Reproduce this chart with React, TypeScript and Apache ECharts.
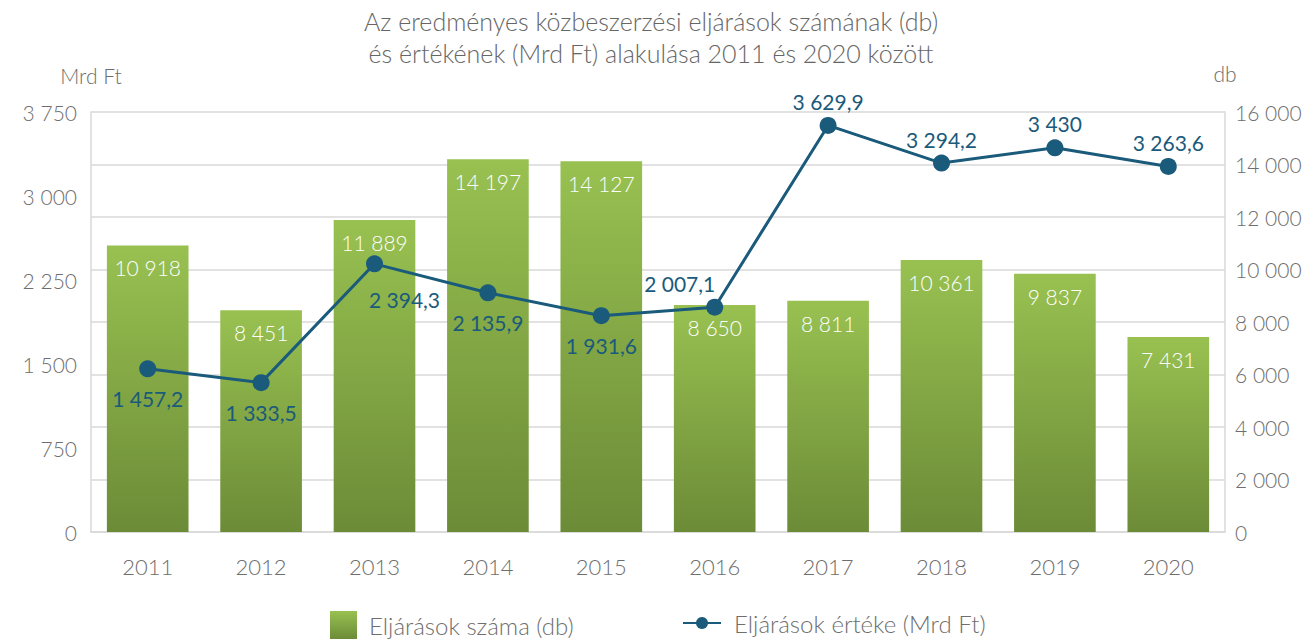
import React, { useEffect, useRef } from "react";
import * as echarts from "echarts";

const years = ["2011", "2012", "2013", "2014", "2015", "2016", "2017", "2018", "2019", "2020"];
const countValues = [10918, 8451, 11889, 14197, 14127, 8650, 8811, 10361, 9837, 7431];
const valueMrdFt = [1457.2, 1333.5, 2394.3, 2135.9, 1931.6, 2007.1, 3629.9, 3294.2, 3430, 3263.6];
const titleLines = [
  "Az eredményes közbeszerzési eljárások számának (db)",
  "és értékének (Mrd Ft) alakulása 2011 és 2020 között",
];
const countName = "Eljárások száma (db)";
const valueName = "Eljárások értéke (Mrd Ft)";
const leftAxisName = "Mrd Ft";
const rightAxisName = "db";

// label placement for the line series (styling, not data)
const lineLabelPlacement: { position: string; offset: [number, number] }[] = [
  { position: "bottom", offset: [0, 0] },
  { position: "bottom", offset: [0, 0] },
  { position: "bottom", offset: [30, 6] },
  { position: "bottom", offset: [0, 0] },
  { position: "bottom", offset: [0, 0] },
  { position: "top", offset: [-35, 0] },
  { position: "top", offset: [0, 0] },
  { position: "top", offset: [0, 0] },
  { position: "top", offset: [0, 0] },
  { position: "top", offset: [0, 0] },
];

const fmt = (v: number): string => {
  const dec = Number.isInteger(v) ? 0 : 1;
  const s = v.toFixed(dec);
  const [i, d] = s.split(".");
  const ii = i.replace(/\B(?=(\d{3})+(?!\d))/g, " ");
  return d ? ii + "," + d : ii;
};

const FONT = "Lato";
const GRAY = "#6e6e6e";
const BLUE = "#1a5a7b";
const GRID = "#d9d9d9";

export default function App() {
  const ref = useRef<HTMLDivElement>(null);
  useEffect(() => {
    if (!ref.current) return;
    const chart = echarts.init(ref.current, undefined, { renderer: "svg" });
    const barGradient = new echarts.graphic.LinearGradient(0, 0, 0, 1, [
      { offset: 0, color: "#98c151" },
      { offset: 1, color: "#6c8b37" },
    ]);
    chart.setOption({
      animation: false,
      textStyle: { fontFamily: FONT },
      title: {
        text: titleLines.join("\n"),
        left: 646,
        textAlign: "center",
        top: 0,
        textStyle: {
          fontFamily: FONT,
          fontSize: 25,
          fontWeight: 300,
          color: "#666666",
          lineHeight: 32,
        },
      },
      grid: { left: 91, right: 85, top: 112, bottom: 111, containLabel: false },
      legend: [
        {
          data: [{ name: countName, icon: "rect" }],
          left: 330,
          top: 611,
          padding: 0,
          itemWidth: 27,
          itemHeight: 28,
          textStyle: { fontFamily: FONT, fontSize: 24, fontWeight: 300, color: GRAY, padding: [0, 0, 0, 7] },
        },
        {
          data: [{ name: valueName }],
          left: 682,
          top: 611,
          padding: 0,
          itemWidth: 38,
          itemHeight: 15,
          textStyle: { fontFamily: FONT, fontSize: 24, fontWeight: 300, color: GRAY, padding: [0, 0, 0, 8] },
        },
      ],
      xAxis: {
        type: "category",
        data: years,
        axisLine: { show: true, lineStyle: { color: GRID, width: 1.5 } },
        axisTick: { show: false },
        axisLabel: { color: GRAY, fontSize: 22, fontWeight: 300, margin: 23, fontFamily: FONT },
      },
      yAxis: [
        {
          type: "value",
          min: 0,
          max: 3750,
          interval: 750,
          position: "left",
          name: leftAxisName,
          nameLocation: "end",
          nameGap: 26,
          nameTextStyle: { color: GRAY, fontSize: 21, fontWeight: 300, fontFamily: FONT },
          axisLine: { show: true, lineStyle: { color: GRID, width: 1.5 } },
          axisTick: { show: false },
          splitLine: { show: false },
          axisLabel: { color: GRAY, fontSize: 21, fontWeight: 300, margin: 14, fontFamily: FONT, formatter: (v: number) => fmt(v) },
        },
        {
          type: "value",
          min: 0,
          max: 16000,
          interval: 2000,
          position: "right",
          name: rightAxisName,
          nameLocation: "end",
          nameGap: 28,
          nameTextStyle: { color: GRAY, fontSize: 21, fontWeight: 300, fontFamily: FONT },
          axisLine: { show: true, lineStyle: { color: GRID, width: 1.5 } },
          axisTick: { show: false },
          splitLine: { show: true, lineStyle: { color: GRID, width: 1.5 } },
          axisLabel: { color: GRAY, fontSize: 21, fontWeight: 300, margin: 10, fontFamily: FONT, formatter: (v: number) => fmt(v) },
        },
      ],
      series: [
        {
          name: countName,
          type: "bar",
          yAxisIndex: 1,
          data: countValues,
          barWidth: "72%",
          itemStyle: { color: barGradient },
          label: {
            show: true,
            position: "insideTop",
            distance: 12,
            color: "#ffffff",
            fontSize: 21,
            fontWeight: 300,
            fontFamily: FONT,
            formatter: (p: any) => fmt(p.value),
          },
        },
        {
          name: valueName,
          type: "line",
          yAxisIndex: 0,
          symbol: "circle",
          symbolSize: 17,
          lineStyle: { color: BLUE, width: 3 },
          itemStyle: { color: BLUE },
          data: valueMrdFt.map((v, i) => ({
            value: v,
            label: {
              position: lineLabelPlacement[i].position,
              offset: lineLabelPlacement[i].offset,
              distance: lineLabelPlacement[i].position === "bottom" ? 11 : 5,
            },
          })),
          label: {
            show: true,
            color: BLUE,
            fontSize: 21,
            fontFamily: FONT,
            formatter: (p: any) => fmt(p.value),
          },
          z: 5,
        },
      ],
    });
    return () => chart.dispose();
  }, []);
  return (
    <div
      ref={ref}
      style={{ position: "fixed", left: 0, top: 0, width: 1310, height: 643, background: "#ffffff" }}
    />
  );
}
